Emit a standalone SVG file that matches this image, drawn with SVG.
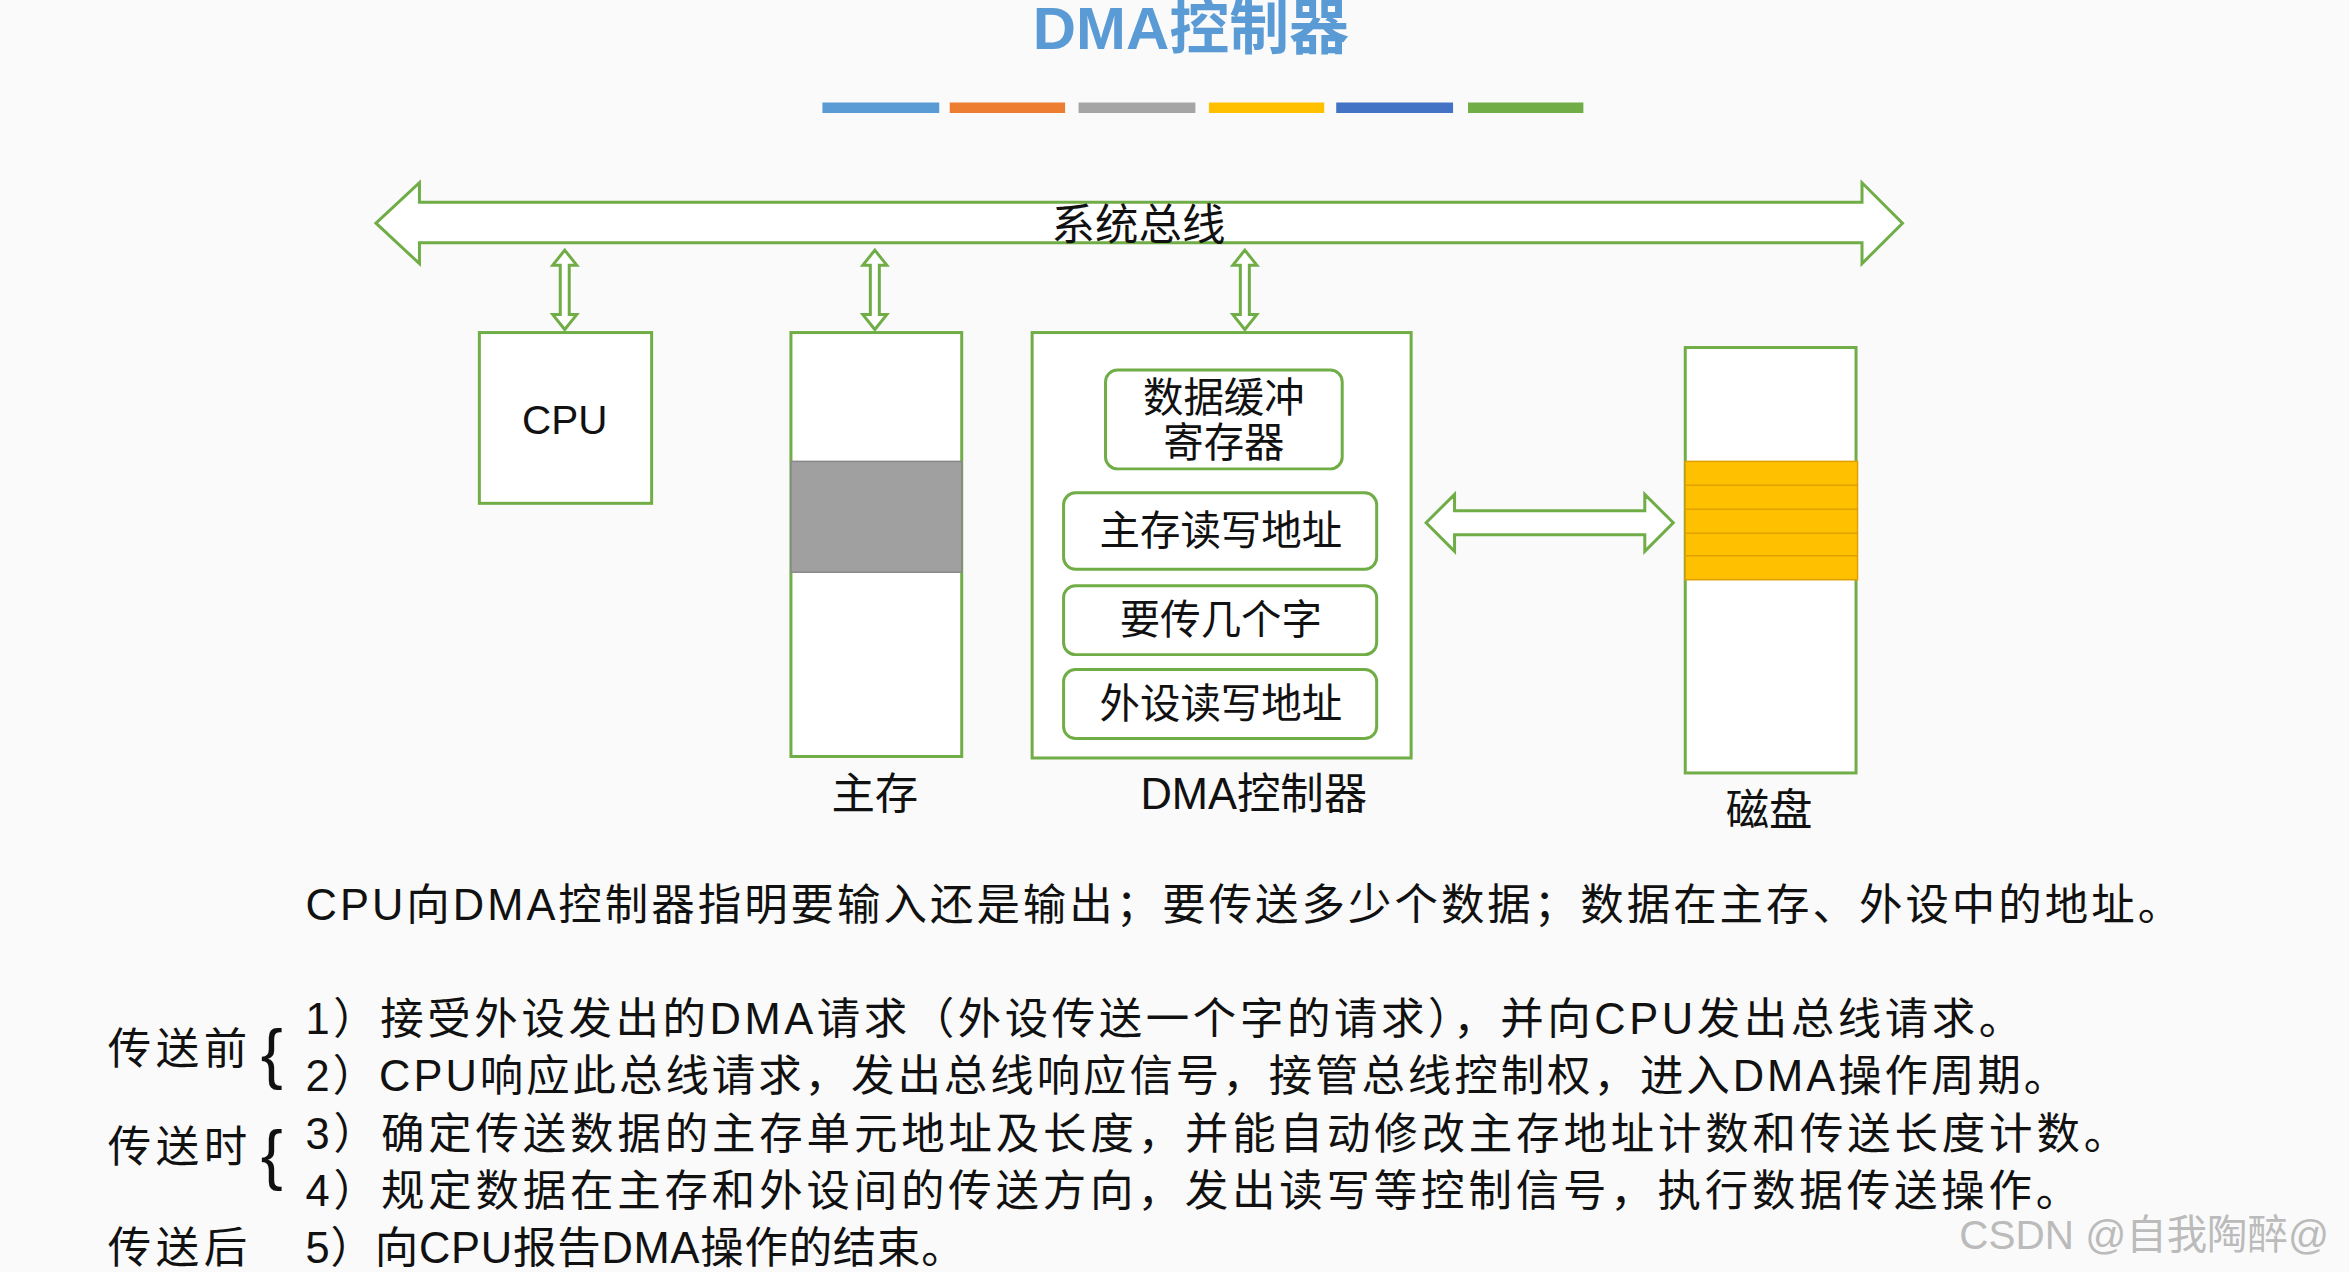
<svg xmlns="http://www.w3.org/2000/svg" width="2349" height="1272" viewBox="0 0 2349 1272">
<style>
.g{fill:#fff;stroke:#70AD47;stroke-width:2}
.t{font-family:"Liberation Sans","Noto Sans CJK SC",sans-serif;fill:#111}
.c{text-anchor:middle}
</style>
<rect width="2349" height="1272" fill="#fafafa"/>
<g transform="scale(1.498)">
<text class="t c" x="795" y="33" font-size="40" font-weight="bold" style="fill:#5B9BD5">DMA控制器</text>
<g id="bars" stroke-width="7">
<line x1="549" y1="72" x2="627" y2="72" stroke="#5B9BD5"/>
<line x1="634" y1="72" x2="711" y2="72" stroke="#ED7D31"/>
<line x1="720" y1="72" x2="798" y2="72" stroke="#A5A5A5"/>
<line x1="807" y1="72" x2="884" y2="72" stroke="#FFC000"/>
<line x1="892" y1="72" x2="970" y2="72" stroke="#4472C4"/>
<line x1="980" y1="72" x2="1057" y2="72" stroke="#70AD47"/>
</g>
<g id="connectors">
<path class="g" d="M251,149 L280,122 L280,135 L1243,135 L1243,122 L1270,149 L1243,176 L1243,162 L280,162 L280,176 Z"/>
<path class="g" d="M377,167 L385,177 L380,177 L380,210 L385,210 L377,220 L369,210 L374,210 L374,177 L369,177 Z"/>
<path class="g" d="M584,167 L592,177 L587,177 L587,210 L592,210 L584,220 L576,210 L581,210 L581,177 L576,177 Z"/>
<path class="g" d="M831,167 L839,177 L834,177 L834,210 L839,210 L831,220 L823,210 L828,210 L828,177 L823,177 Z"/>
<path class="g" d="M952,349 L971,330 L971,341 L1098,341 L1098,330 L1117,349 L1098,368 L1098,357 L971,357 L971,368 Z"/>
</g>
<text class="t c" x="760" y="160" font-size="29">系统总线</text>
<g id="cpu"><rect class="g" x="320" y="222" width="115" height="114"/><text class="t c" x="377" y="290" font-size="27">CPU</text></g>
<g id="mem"><rect class="g" x="528" y="222" width="114" height="283"/><rect x="528" y="308" width="114" height="74" fill="#A0A0A0" stroke="#888"/><text class="t c" x="584" y="540" font-size="29">主存</text></g>
<g id="dma">
<rect class="g" x="689" y="222" width="253" height="284"/>
<rect class="g" x="738" y="247" width="158" height="66" rx="8"/>
<text class="t c" x="817" y="275" font-size="27">数据缓冲</text><text class="t c" x="817" y="305" font-size="27">寄存器</text>
<rect class="g" x="710" y="329" width="209" height="51" rx="8"/><text class="t c" x="815" y="364" font-size="27">主存读写地址</text>
<rect class="g" x="710" y="391" width="209" height="46" rx="8"/><text class="t c" x="815" y="423" font-size="27">要传几个字</text>
<rect class="g" x="710" y="447" width="209" height="46" rx="8"/><text class="t c" x="815" y="479" font-size="27">外设读写地址</text>
<text class="t c" x="837" y="540" font-size="29">DMA控制器</text>
</g>
<g id="disk">
<rect class="g" x="1125" y="232" width="114" height="284"/>
<rect x="1125" y="308" width="115" height="79" fill="#FFC000" stroke="#E0A000"/>
<g stroke="#E0A000"><line x1="1125" y1="324" x2="1240" y2="324"/><line x1="1125" y1="340" x2="1240" y2="340"/><line x1="1125" y1="356" x2="1240" y2="356"/><line x1="1125" y1="371" x2="1240" y2="371"/></g>
<text class="t c" x="1181" y="551" font-size="29">磁盘</text>
</g>
<g id="text" font-size="29">
<text class="t" x="204" y="614" textLength="1252" lengthAdjust="spacing">CPU向DMA控制器指明要输入还是输出；要传送多少个数据；数据在主存、外设中的地址。</text>
<text class="t" x="72" y="710" textLength="93">传送前</text><text class="t" x="174" y="718" font-size="44">{</text>
<text class="t" x="72" y="776" textLength="93">传送时</text><text class="t" x="174" y="786" font-size="44">{</text>
<text class="t" x="72" y="843" textLength="93">传送后</text>
<text class="t" x="204" y="690" textLength="1146" lengthAdjust="spacing">1）接受外设发出的DMA请求（外设传送一个字的请求），并向CPU发出总线请求。</text>
<text class="t" x="204" y="728" textLength="1176" lengthAdjust="spacing">2）CPU响应此总线请求，发出总线响应信号，接管总线控制权，进入DMA操作周期。</text>
<text class="t" x="204" y="767" textLength="1216" lengthAdjust="spacing">3）确定传送数据的主存单元地址及长度，并能自动修改主存地址计数和传送长度计数。</text>
<text class="t" x="204" y="805" textLength="1184" lengthAdjust="spacing">4）规定数据在主存和外设间的传送方向，发出读写等控制信号，执行数据传送操作。</text>
<text class="t" x="204" y="843" textLength="440" lengthAdjust="spacing">5）向CPU报告DMA操作的结束。</text>
<text class="t" x="1308" y="834" font-size="27" style="fill:#bbb">CSDN @自我陶醉@</text>
</g>
</g>
</svg>
